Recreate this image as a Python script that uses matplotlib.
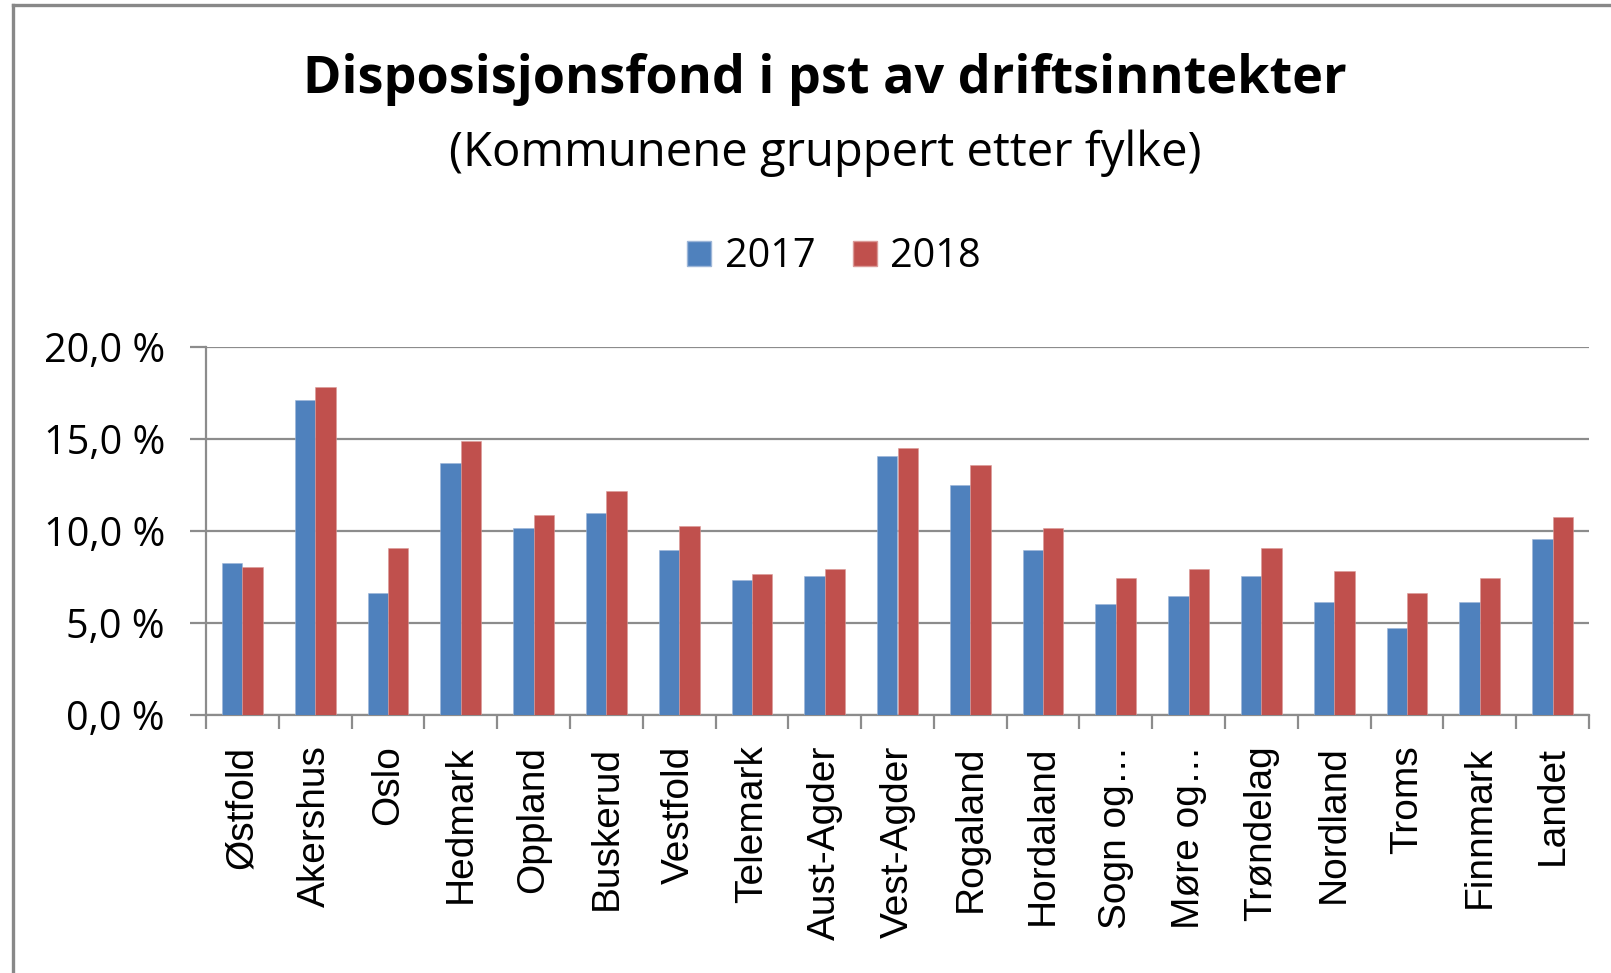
import matplotlib
matplotlib.use("Agg")
import matplotlib.pyplot as plt
from matplotlib.lines import Line2D
from matplotlib.patches import Patch
from matplotlib.ticker import FixedLocator
import numpy as np

plt.rcParams["font.family"] = ["Open Sans", "DejaVu Sans"]

categories = ["Østfold", "Akershus", "Oslo", "Hedmark", "Oppland", "Buskerud",
              "Vestfold", "Telemark", "Aust-Agder", "Vest-Agder", "Rogaland",
              "Hordaland", "Sogn og…", "Møre og…", "Trøndelag", "Nordland",
              "Troms", "Finnmark", "Landet"]
values_2017 = [8.27, 17.12, 6.62, 13.69, 10.16, 10.99, 8.98, 7.33, 7.56, 14.05,
               12.51, 8.98, 6.02, 6.49, 7.56, 6.15, 4.73, 6.15, 9.56]
values_2018 = [8.03, 17.81, 9.09, 14.87, 10.86, 12.15, 10.27, 7.67, 7.93, 14.53,
               13.56, 10.16, 7.45, 7.93, 9.09, 7.80, 6.62, 7.45, 10.74]
series_names = ["2017", "2018"]
yticks = [0, 5, 10, 15, 20]

title = "Disposisjonsfond i pst av driftsinntekter"
subtitle = "(Kommunene gruppert etter fylke)"

BLUE = "#4F81BD"
RED = "#C0504D"
GRAY = "#8C8C8C"

W, H = 1611, 973
fig = plt.figure(figsize=(W / 100, H / 100), dpi=100)
fig.patch.set_facecolor("white")

ax = fig.add_axes([206 / W, 1 - 715 / H, 1383 / W, 368 / H])

x = np.arange(len(categories))
bw = 0.28
ax.bar(x - bw / 2, values_2017, width=bw, color=BLUE, edgecolor="#9DB6D8", linewidth=0.4, zorder=3)
ax.bar(x + bw / 2, values_2018, width=bw, color=RED, edgecolor="#DB9A98", linewidth=0.4, zorder=3)

ax.set_xlim(-0.5, len(categories) - 0.5)
ax.set_ylim(0, 20)
ax.set_yticks(yticks)
ax.set_yticklabels([f"{v:.1f}".replace(".", ",") + " %" for v in yticks],
                   fontsize=28.5, fontfamily="Open Sans")
ax.grid(axis="y", color=GRAY, linewidth=1.6, zorder=0)
ax.set_axisbelow(True)

for s in ["top", "right"]:
    ax.spines[s].set_visible(False)
for s in ["left", "bottom"]:
    ax.spines[s].set_color(GRAY)
    ax.spines[s].set_linewidth(1.6)

ax.tick_params(axis="y", direction="out", length=11.5, width=1.6, color=GRAY,
               pad=18, labelcolor="black")

ax.set_xticks(x)
ax.set_xticklabels(categories, rotation=90, fontsize=28, fontfamily="Liberation Sans",
                   va="top", ha="center")
ax.tick_params(axis="x", which="major", length=0, pad=22)
ax.xaxis.set_minor_locator(FixedLocator(np.arange(-0.5, len(categories), 1.0)))
ax.tick_params(axis="x", which="minor", direction="out", length=10, width=1.6, color=GRAY)

fig.text(825 / W, 1 - 80 / H, title, ha="center", va="center", fontsize=37.5,
         fontweight="bold", fontfamily="Open Sans")
fig.text(825 / W, 1 - 153 / H, subtitle, ha="center", va="center", fontsize=34,
         fontfamily="Open Sans")

handles = [Patch(facecolor=BLUE, edgecolor="#9DB6D8"), Patch(facecolor=RED, edgecolor="#DB9A98")]
fig.legend(handles, series_names, loc="center", bbox_to_anchor=(834 / W, 1 - 257 / H),
           ncol=2, frameon=False, handlelength=0.6, handleheight=0.6, handletextpad=0.35,
           columnspacing=0.95, prop={"family": "Open Sans", "size": 28.5})

# chart border (left and top)
fig.add_artist(Line2D([12.5 / W, 12.5 / W], [0, 1 - 4.5 / H], transform=fig.transFigure,
                      color="#888888", linewidth=2.4))
fig.add_artist(Line2D([12.5 / W, 1], [1 - 4.5 / H, 1 - 4.5 / H], transform=fig.transFigure,
                      color="#888888", linewidth=2.4))

fig.savefig("out.png", dpi=100, facecolor="white")
